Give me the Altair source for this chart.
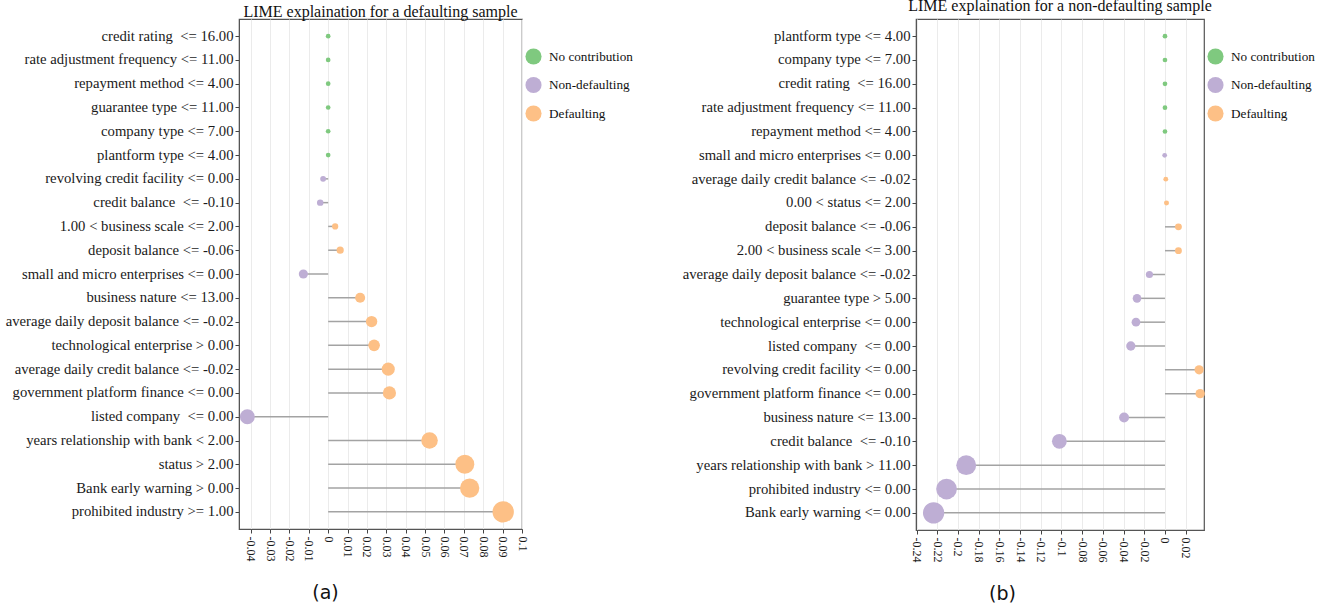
import altair as alt
import pandas as pd

SERIF = "Liberation Serif"
SANS = "DejaVu Sans"

EFFECTS = ["No contribution", "Non-defaulting", "Defaulting"]
EFFECT_COLORS = ["#7fc97f", "#beaed4", "#fdc086"]

# Panel (a): LIME weights for a defaulting sample
features_a = [
    "credit rating \u00a0<= 16.00",
    "rate adjustment frequency <= 11.00",
    "repayment method <= 4.00",
    "guarantee type <= 11.00",
    "company type <= 7.00",
    "plantform type <= 4.00",
    "revolving credit facility <= 0.00",
    "credit balance \u00a0<= -0.10",
    "1.00 < business scale <= 2.00",
    "deposit balance <= -0.06",
    "small and micro enterprises <= 0.00",
    "business nature <= 13.00",
    "average daily deposit balance <= -0.02",
    "technological enterprise > 0.00",
    "average daily credit balance <= -0.02",
    "government platform finance <= 0.00",
    "listed company \u00a0<= 0.00",
    "years relationship with bank < 2.00",
    "status > 2.00",
    "Bank early warning > 0.00",
    "prohibited industry >= 1.00",
]
weights_a = [0, 0, 0, 0, 0, 0, -0.0026, -0.0041, 0.0036, 0.0062, -0.0128,
             0.0165, 0.0224, 0.0237, 0.0310, 0.0316, -0.0417, 0.0523, 0.0705,
             0.0730, 0.0903]
ticks_a = [-0.04, -0.03, -0.02, -0.01, 0, 0.01, 0.02, 0.03, 0.04, 0.05,
           0.06, 0.07, 0.08, 0.09, 0.1]
domain_a = [-0.046, 0.1]

# Panel (b): LIME weights for a non-defaulting sample
features_b = [
    "plantform type <= 4.00",
    "company type <= 7.00",
    "credit rating \u00a0<= 16.00",
    "rate adjustment frequency <= 11.00",
    "repayment method <= 4.00",
    "small and micro enterprises <= 0.00",
    "average daily credit balance <= -0.02",
    "0.00 < status <= 2.00",
    "deposit balance <= -0.06",
    "2.00 < business scale <= 3.00",
    "average daily deposit balance <= -0.02",
    "guarantee type > 5.00",
    "technological enterprise <= 0.00",
    "listed company \u00a0<= 0.00",
    "revolving credit facility <= 0.00",
    "government platform finance <= 0.00",
    "business nature <= 13.00",
    "credit balance \u00a0<= -0.10",
    "years relationship with bank > 11.00",
    "prohibited industry <= 0.00",
    "Bank early warning <= 0.00",
]
weights_b = [0, 0, 0, 0, 0, -0.0003, 0.0008, 0.0015, 0.0130, 0.0130, -0.0150,
             -0.0270, -0.0280, -0.0330, 0.0330, 0.0340, -0.0395, -0.1020,
             -0.1920, -0.2110, -0.2235]
ticks_b = [-0.24, -0.22, -0.2, -0.18, -0.16, -0.14, -0.12, -0.1, -0.08,
           -0.06, -0.04, -0.02, 0, 0.02]
domain_b = [-0.2405, 0.0377]


def effect_of(w):
    if w == 0:
        return "No contribution"
    return "Defaulting" if w > 0 else "Non-defaulting"


def lollipop(features, weights, ticks, domain, title, title_offset, caption,
             width, height):
    df = pd.DataFrame({"feature": features, "weight": weights})
    df["effect"] = [effect_of(w) for w in weights]
    df["magnitude"] = df["weight"].abs()

    y = alt.Y("feature:N", sort=features,
              scale=alt.Scale(type="point", padding=0.72),
              axis=alt.Axis(title=None, labelLimit=400))
    x = alt.X("weight:Q",
              scale=alt.Scale(domain=domain, nice=False, zero=False),
              axis=alt.Axis(values=ticks, labelExpr="'' + datum.value",
                            title=caption, titleX=86, titleY=63,
                            titleAngle=0, titleAlign="center",
                            titleBaseline="middle"))
    base = alt.Chart(df)

    stems = base.mark_rule(color="#a3a3a3", strokeWidth=1.5).encode(
        x=x, x2=alt.datum(0), y=y)

    dots = base.mark_circle(opacity=1).encode(
        x=x, y=y,
        color=alt.Color("effect:N",
                        scale=alt.Scale(domain=EFFECTS, range=EFFECT_COLORS),
                        legend=alt.Legend(title=None, orient="none",
                                          legendX=width + 3, legendY=29,
                                          symbolType="circle", symbolSize=260,
                                          symbolStrokeWidth=0,
                                          labelFont=SERIF, labelFontSize=13.2,
                                          labelColor="#111", labelOffset=7,
                                          rowPadding=11.5, padding=0,
                                          offset=0)),
        size=alt.Size("magnitude:Q",
                      scale=alt.Scale(domain=[0, max(abs(w) for w in weights)],
                                      range=[22, 455]),
                      legend=None),
    )

    return alt.layer(stems, dots).properties(
        width=width, height=height,
        title=alt.Title(title, offset=title_offset, baseline="bottom",
                        frame="group"),
    )


panel_a = lollipop(features_a, weights_a, ticks_a, domain_a,
                   "LIME explaination for a defaulting sample", -17, "(a)",
                   283, 510)
panel_b = lollipop(features_b, weights_b, ticks_b, domain_b,
                   "LIME explaination for a non-defaulting sample", -11, "(b)",
                   288, 511)

chart = (
    alt.hconcat(panel_a, panel_b, spacing=47)
    .resolve_scale(color="independent", size="independent",
                   x="independent", y="independent")
    .resolve_legend(color="independent")
    .properties(padding={"left": 4, "top": -3, "right": 5, "bottom": 5},
                background="white")
    .configure_view(stroke="#555555", strokeWidth=1.2)
    .configure_title(font=SERIF, fontSize=16, fontWeight="normal",
                     color="#111", anchor="middle")
    .configure_axis(labelFont=SERIF, labelColor="#1a1a1a", tickColor="#444",
                    domainColor="#555555", tickSize=4, gridColor="#ebebeb",
                    titleFont=SANS, titleFontSize=19, titleFontWeight="normal",
                    titleColor="#111")
    .configure_axisY(grid=False, labelFontSize=14.7, labelPadding=2)
    .configure_axisX(grid=True, labelFontSize=12, labelAngle=90,
                     labelPadding=3)
)

chart.save("out.html", embed_options={"renderer": "svg", "actions": False})
